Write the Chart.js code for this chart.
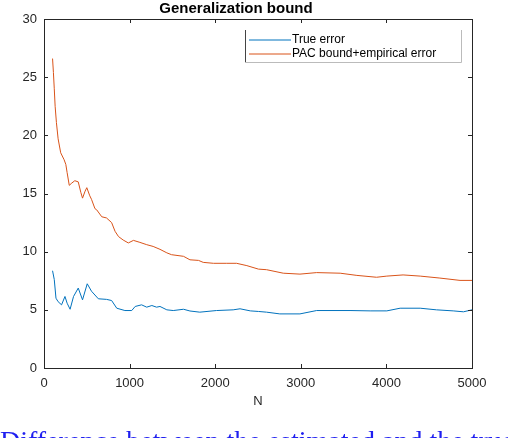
<!DOCTYPE html>
<html>
<head>
<meta charset="utf-8">
<script src="https://cdn.jsdelivr.net/npm/chart.js@4/dist/chart.umd.min.js"></script>
<style>
  html, body { margin: 0; padding: 0; background: #fff; overflow: hidden; }
  #wrap { position: relative; width: 508px; height: 438px; }
  #caption {
    position: absolute; left: 0; top: 427px; white-space: nowrap;
    font-family: "Liberation Serif", "DejaVu Serif", serif;
    font-size: 28px; line-height: 28px; color: #1f1ff0;
  }
</style>
</head>
<body>
<div id="wrap">
  <canvas id="chart" width="508" height="438"></canvas>
  <div id="caption">Difference between the estimated and the true error</div>
</div>
<script>
// True error (blue)
const nTrue = [100, 120, 140, 165, 205, 245, 270, 305, 345, 400, 450, 505, 555, 635, 730, 790, 850, 945,
  1025, 1065, 1140, 1200, 1260, 1315, 1355, 1435, 1510, 1630, 1705, 1820, 2015, 2210, 2290, 2410, 2505,
  2600, 2755, 2990, 3185, 3575, 3810, 4005, 4160, 4395, 4585, 4780, 4900, 5000];
const trueErr = [8.36, 7.6, 6.0, 5.7, 5.43, 6.15, 5.57, 5.05, 6.15, 6.87, 5.86, 7.24, 6.6, 5.95, 5.9, 5.8, 5.14, 4.94,
  4.94, 5.29, 5.43, 5.23, 5.37, 5.23, 5.29, 5.0, 4.94, 5.05, 4.9, 4.8, 4.94, 5.0, 5.09, 4.91, 4.86,
  4.8, 4.65, 4.65, 4.94, 4.94, 4.91, 4.91, 5.14, 5.14, 5.0, 4.91, 4.83, 5.0];

// PAC bound + empirical error (red)
const nBound = [100, 110, 120, 130, 145, 165, 195, 235, 255, 270, 295, 325, 360, 400, 430, 450, 480, 500, 535, 555,
  595, 615, 675, 730, 790, 830, 870, 925, 985, 1045, 1120, 1200, 1275, 1355, 1435, 1490, 1630, 1705, 1805,
  1860, 1980, 2135, 2250, 2370, 2505, 2600, 2795, 2990, 3185, 3460, 3655, 3885, 4005, 4195, 4395, 4625, 4860, 5000];
const boundErr = [26.6, 25.4, 24.0, 22.5, 21.1, 19.7, 18.5, 17.9, 17.5, 16.8, 15.7, 15.9, 16.1, 16.0, 15.1, 14.6, 15.2, 15.5, 14.8, 14.5,
  13.7, 13.6, 13.0, 12.9, 12.5, 11.75, 11.3, 11.0, 10.75, 10.97, 10.8, 10.6, 10.45, 10.2, 9.9, 9.74, 9.6, 9.3, 9.25,
  9.08, 9.0, 9.0, 9.0, 8.8, 8.5, 8.45, 8.15, 8.07, 8.2, 8.15, 7.96, 7.8, 7.9, 8.0, 7.9, 7.73, 7.53, 7.53];

const xTicks = [0, 1000, 2000, 3000, 4000, 5000];
const yTicks = [0, 5, 10, 15, 20, 25, 30];

const toPoints = (xs, ys) => xs.map((x, i) => ({ x: x, y: ys[i] }));

const axisColor = '#262626';
const font = 'Liberation Sans, Arial, Helvetica, sans-serif';

// box around the axes plus inward tick marks, MATLAB style
const boxPlugin = {
  id: 'box',
  afterDraw(chart) {
    const { ctx, chartArea: a, scales } = chart;
    ctx.save();
    ctx.strokeStyle = axisColor;
    ctx.lineWidth = 1;
    ctx.strokeRect(Math.round(a.left) + 0.5, Math.round(a.top) + 0.5,
      Math.round(a.right - a.left), Math.round(a.bottom - a.top));
    const len = 4;
    ctx.beginPath();
    xTicks.forEach(v => {
      const px = Math.round(scales.x.getPixelForValue(v)) + 0.5;
      ctx.moveTo(px, a.bottom); ctx.lineTo(px, a.bottom - len);
      ctx.moveTo(px, a.top); ctx.lineTo(px, a.top + len);
    });
    yTicks.forEach(v => {
      const py = Math.round(scales.y.getPixelForValue(v)) + 0.5;
      ctx.moveTo(a.left, py); ctx.lineTo(a.left + len, py);
      ctx.moveTo(a.right, py); ctx.lineTo(a.right - len, py);
    });
    ctx.stroke();
    ctx.restore();
  }
};

// legend box in the upper right of the axes
const legendPlugin = {
  id: 'boxLegend',
  afterDraw(chart) {
    const { ctx } = chart;
    const x0 = 245, y0 = 30, w = 216, h = 32;
    ctx.save();
    ctx.fillStyle = '#fff';
    ctx.fillRect(x0, y0, w, h);
    ctx.lineWidth = 1;
    ctx.strokeStyle = '#444';
    ctx.beginPath(); ctx.moveTo(x0 + 0.5, y0); ctx.lineTo(x0 + 0.5, y0 + h); ctx.stroke();
    ctx.strokeStyle = '#bbb';
    ctx.beginPath();
    ctx.moveTo(x0, y0 + h + 0.5); ctx.lineTo(x0 + w + 0.5, y0 + h + 0.5); ctx.lineTo(x0 + w + 0.5, y0);
    ctx.stroke();
    ctx.font = '12px ' + font;
    ctx.textBaseline = 'middle';
    chart.data.datasets.forEach((ds, i) => {
      const y = y0 + 10 + i * 14;
      ctx.strokeStyle = ds.borderColor;
      ctx.beginPath(); ctx.moveTo(x0 + 4, y); ctx.lineTo(x0 + 46, y); ctx.stroke();
      ctx.fillStyle = '#000';
      ctx.fillText(ds.label, x0 + 47, y);
    });
    ctx.restore();
  }
};

new Chart(document.getElementById('chart'), {
  type: 'line',
  data: {
    datasets: [
      {
        label: 'True error',
        data: toPoints(nTrue, trueErr),
        borderColor: '#0072BD',
        borderWidth: 1,
        pointRadius: 0,
        tension: 0
      },
      {
        label: 'PAC bound+empirical error',
        data: toPoints(nBound, boundErr),
        borderColor: '#D95319',
        borderWidth: 1,
        pointRadius: 0,
        tension: 0
      }
    ]
  },
  options: {
    responsive: false,
    animation: false,
    layout: { padding: { left: 0, right: 36, top: 0, bottom: 29 } },
    plugins: {
      legend: { display: false },
      tooltip: { enabled: false },
      title: {
        display: true,
        text: 'Generalization bound',
        color: '#000',
        font: { family: font, size: 15, weight: 'bold' },
        padding: { top: 0, bottom: 1 }
      }
    },
    scales: {
      x: {
        type: 'linear',
        min: 0, max: 5000,
        afterBuildTicks: s => { s.ticks = xTicks.map(v => ({ value: v })); },
        grid: { display: false, drawTicks: false },
        border: { display: false },
        ticks: {
          color: axisColor, font: { family: font, size: 13 }, padding: 8, maxRotation: 0,
          callback: v => String(v)
        },
        title: { display: true, text: 'N', color: axisColor, font: { family: font, size: 13 }, padding: { top: 2, bottom: 0 } },
        afterFit: s => { s.height = 41; }
      },
      y: {
        min: 0, max: 30,
        afterBuildTicks: s => { s.ticks = yTicks.map(v => ({ value: v })); },
        grid: { display: false, drawTicks: false },
        border: { display: false },
        ticks: { color: axisColor, font: { family: font, size: 13 }, padding: 7, callback: v => String(v) },
        afterFit: s => { s.width = 44; }
      }
    }
  },
  plugins: [boxPlugin, legendPlugin]
});
</script>
</body>
</html>
